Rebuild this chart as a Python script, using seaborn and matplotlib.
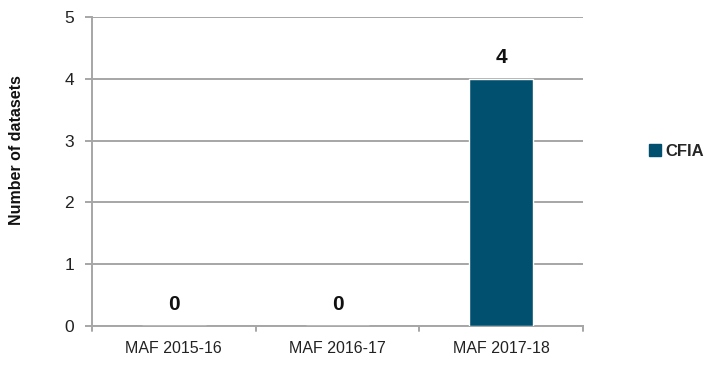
import matplotlib
matplotlib.use("Agg")
import matplotlib.pyplot as plt
import seaborn as sns
import pandas as pd
from matplotlib.patches import Patch

categories = ["MAF 2015-16", "MAF 2016-17", "MAF 2017-18"]
values = [0, 0, 4]
series_name = "CFIA"
yticks = [0, 1, 2, 3, 4, 5]

sns.set_theme(style="white")
plt.rcParams['font.family'] = ['Liberation Sans', 'DejaVu Sans']

df = pd.DataFrame({"cat": categories, "val": values})

fig = plt.figure(figsize=(7.1, 3.73), dpi=100)
ax = fig.add_axes([0.1296, 0.126, 0.6915, 0.828])
bar_color = "#02506F"
sns.barplot(data=df, x="cat", y="val", color=bar_color, width=0.39, ax=ax,
            saturation=1, zorder=3)

grid_c = "#A6A6A6"
ax.set_ylim(0, 5)
ax.set_xlim(-0.5, 2.5)
ax.set_yticks(yticks)
ax.set_yticklabels([str(t) for t in yticks], fontsize=12.5, color="#222222")
ax.yaxis.grid(True, color=grid_c, linewidth=1.4, zorder=0)
ax.set_axisbelow(True)
ax.set_xticks(range(len(categories)))
ax.set_xticklabels(categories, fontsize=11.5, color="#222222")
ax.tick_params(axis="x", length=0, pad=11)
ax.tick_params(axis="y", length=5, width=1.4, color=grid_c, pad=8, left=True)
# boundary ticks on x axis
for b in [-0.5, 0.5, 1.5, 2.5]:
    ax.plot([b, b], [0, -0.08], color=grid_c, lw=1.4, clip_on=False, zorder=5)

for s in ["top", "right"]:
    ax.spines[s].set_visible(False)
for s in ["left", "bottom"]:
    ax.spines[s].set_color(grid_c)
    ax.spines[s].set_linewidth(1.4)

ax.set_xlabel("")
ax.set_ylabel("Number of datasets", fontsize=11.5, fontweight="bold",
              color="#111111")
ax.yaxis.set_label_coords(-0.138, 0.57)

for i, v in enumerate(values):
    ax.text(i, v + 0.2, str(v), ha="center", va="bottom", fontsize=15,
            fontweight="bold", color="#111111")

handle = Patch(facecolor=bar_color, edgecolor=bar_color)
leg = fig.legend([handle], [series_name], loc="center left",
                 bbox_to_anchor=(0.914, 0.595), frameon=False, borderpad=0,
                 borderaxespad=0,
                 prop={"weight": "bold", "size": 12}, handlelength=0.7,
                 handleheight=0.7, handletextpad=0.3)

fig.savefig("out.png", dpi=100)
